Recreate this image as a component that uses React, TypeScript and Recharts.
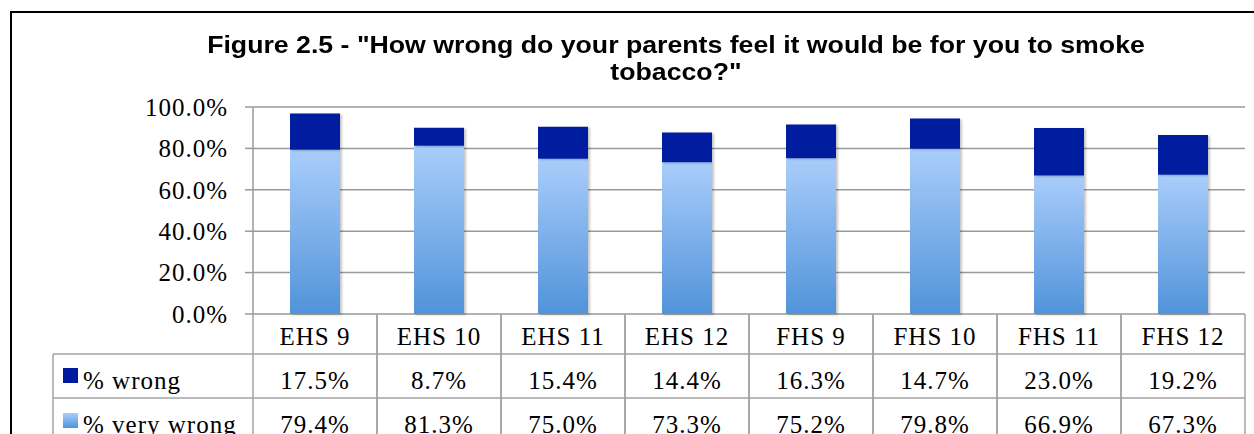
import { BarChart, Bar, XAxis, YAxis, CartesianGrid } from 'recharts'

// survey groups (school + grade)
const GROUPS = ['EHS 9', 'EHS 10', 'EHS 11', 'EHS 12', 'FHS 9', 'FHS 10', 'FHS 11', 'FHS 12']
// percent answering "very wrong" (bottom of stack)
const VERY_WRONG = [79.4, 81.3, 75.0, 73.3, 75.2, 79.8, 66.9, 67.3]
// percent answering "wrong" (top of stack)
const WRONG = [17.5, 8.7, 15.4, 14.4, 16.3, 14.7, 23.0, 19.2]
const Y_TICKS = [0, 20, 40, 60, 80, 100]

const SERIES_LABELS = { wrong: '% wrong', veryWrong: '% very wrong' }

const data = GROUPS.map((name, i) => ({
  name,
  veryWrong: VERY_WRONG[i],
  wrong: WRONG[i],
}))

const W = 1254
const H = 434
const PLOT_LEFT = 253
const PLOT_RIGHT = 1245
const PLOT_TOP = 107
const PLOT_BOTTOM = 314
const COL_W = (PLOT_RIGHT - PLOT_LEFT) / GROUPS.length
const LABEL_LEFT = 53
const ROW_H = 44
const HEAD_H = 40

const DARK = '#001a9f'
const GRID = '#999999'
const TABLE_LINE = '#a3a3a3'
const SERIF = '"Liberation Serif", "Times New Roman", serif'
const SANS = '"Liberation Sans", Arial, sans-serif'

const cellText = {
  fontFamily: SERIF,
  fontSize: 25,
  letterSpacing: 1,
  fill: '#000',
}

// Each x tick draws its column of the data table underneath the plot;
// the first one also draws the row-label column with the legend keys.
function TableTick(props: any) {
  const { x, payload } = props
  const i = props.index ?? payload.index
  const top = PLOT_BOTTOM
  const half = COL_W / 2
  const row1 = top + HEAD_H
  const row2 = row1 + ROW_H
  const bottom = row2 + ROW_H + 20
  const d = data[i]

  return (
    <g>
      <line x1={x - half} y1={top} x2={x - half} y2={bottom} stroke={TABLE_LINE} strokeWidth={1.5} />
      <line x1={x + half} y1={top} x2={x + half} y2={bottom} stroke={TABLE_LINE} strokeWidth={1.5} />
      <line x1={x - half} y1={row1} x2={x + half} y2={row1} stroke={TABLE_LINE} strokeWidth={1.5} />
      <line x1={x - half} y1={row2} x2={x + half} y2={row2} stroke={TABLE_LINE} strokeWidth={1.5} />
      <text x={x} y={top + 31} textAnchor="middle" {...cellText}>{payload.value}</text>
      <text x={x} y={row1 + 35} textAnchor="middle" {...cellText}>{d.wrong.toFixed(1)}%</text>
      <text x={x} y={row2 + 35} textAnchor="middle" {...cellText}>{d.veryWrong.toFixed(1)}%</text>
      {i === 0 && (
        <g>
          <line x1={LABEL_LEFT} y1={row1} x2={x - half} y2={row1} stroke={TABLE_LINE} strokeWidth={1.5} />
          <line x1={LABEL_LEFT} y1={row2} x2={x - half} y2={row2} stroke={TABLE_LINE} strokeWidth={1.5} />
          <line x1={LABEL_LEFT} y1={row1} x2={LABEL_LEFT} y2={bottom} stroke={TABLE_LINE} strokeWidth={1.5} />
          <rect x={63} y={row1 + 14} width={15} height={15} fill={DARK} />
          <text x={83} y={row1 + 35} {...cellText}>{SERIES_LABELS.wrong}</text>
          <rect x={63} y={row2 + 15} width={15} height={15} fill="url(#veryWrongFill)" />
          <text x={83} y={row2 + 35} {...cellText}>{SERIES_LABELS.veryWrong}</text>
        </g>
      )}
    </g>
  )
}

export default function App() {
  return (
    <div
      style={{
        position: 'absolute',
        left: 0,
        top: 0,
        width: W,
        height: H,
        overflow: 'hidden',
        background: '#fff',
      }}
    >
      <div
        style={{
          position: 'absolute',
          left: 10,
          top: 11,
          width: 1400,
          height: 600,
          border: '2px solid #000',
        }}
      />
      <div
        style={{
          position: 'absolute',
          left: 176,
          top: 32,
          width: 1000,
          textAlign: 'center',
          fontFamily: SANS,
          fontWeight: 'bold',
          fontSize: 23,
          lineHeight: '27px',
          color: '#000',
          whiteSpace: 'nowrap',
          transform: 'scaleX(1.16)',
          transformOrigin: '500px 0',
        }}
      >
        Figure 2.5 - "How wrong do your parents feel it would be for you to smoke
        <br />
        tobacco?"
      </div>
      <div style={{ position: 'absolute', left: 0, top: 0 }}>
        <BarChart
          width={W}
          height={H}
          data={data}
          barSize={50}
          margin={{ top: PLOT_TOP, right: W - PLOT_RIGHT, bottom: 0, left: 0 }}
        >
          <defs>
            <linearGradient id="veryWrongFill" x1="0" y1="0" x2="0" y2="1">
              <stop offset="0%" stopColor="#a9cdfb" />
              <stop offset="100%" stopColor="#5193da" />
            </linearGradient>
            <filter id="barShadow" x="-10%" y="-10%" width="130%" height="130%">
              <feDropShadow dx={2} dy={1} stdDeviation={1.2} floodColor="#000" floodOpacity={0.22} />
            </filter>
          </defs>
          <CartesianGrid horizontal vertical={false} stroke={GRID} strokeWidth={1.5} />
          <YAxis
            width={PLOT_LEFT}
            domain={[0, 100]}
            ticks={Y_TICKS}
            interval={0}
            tickFormatter={(v: number) => `${v.toFixed(1)}%`}
            axisLine={{ stroke: GRID, strokeWidth: 1.5 }}
            tickLine={{ stroke: GRID, strokeWidth: 1.5 }}
            tickSize={8}
            tickMargin={17}
            tick={{ ...cellText }}
          />
          <XAxis
            dataKey="name"
            height={H - PLOT_BOTTOM}
            interval={0}
            axisLine={false}
            tickLine={false}
            tickSize={0}
            tickMargin={0}
            tick={<TableTick />}
          />
          <Bar
            dataKey="veryWrong"
            stackId="a"
            fill="url(#veryWrongFill)"
            filter="url(#barShadow)"
            isAnimationActive={false}
          />
          <Bar
            dataKey="wrong"
            stackId="a"
            fill={DARK}
            filter="url(#barShadow)"
            isAnimationActive={false}
          />
        </BarChart>
      </div>
    </div>
  )
}
